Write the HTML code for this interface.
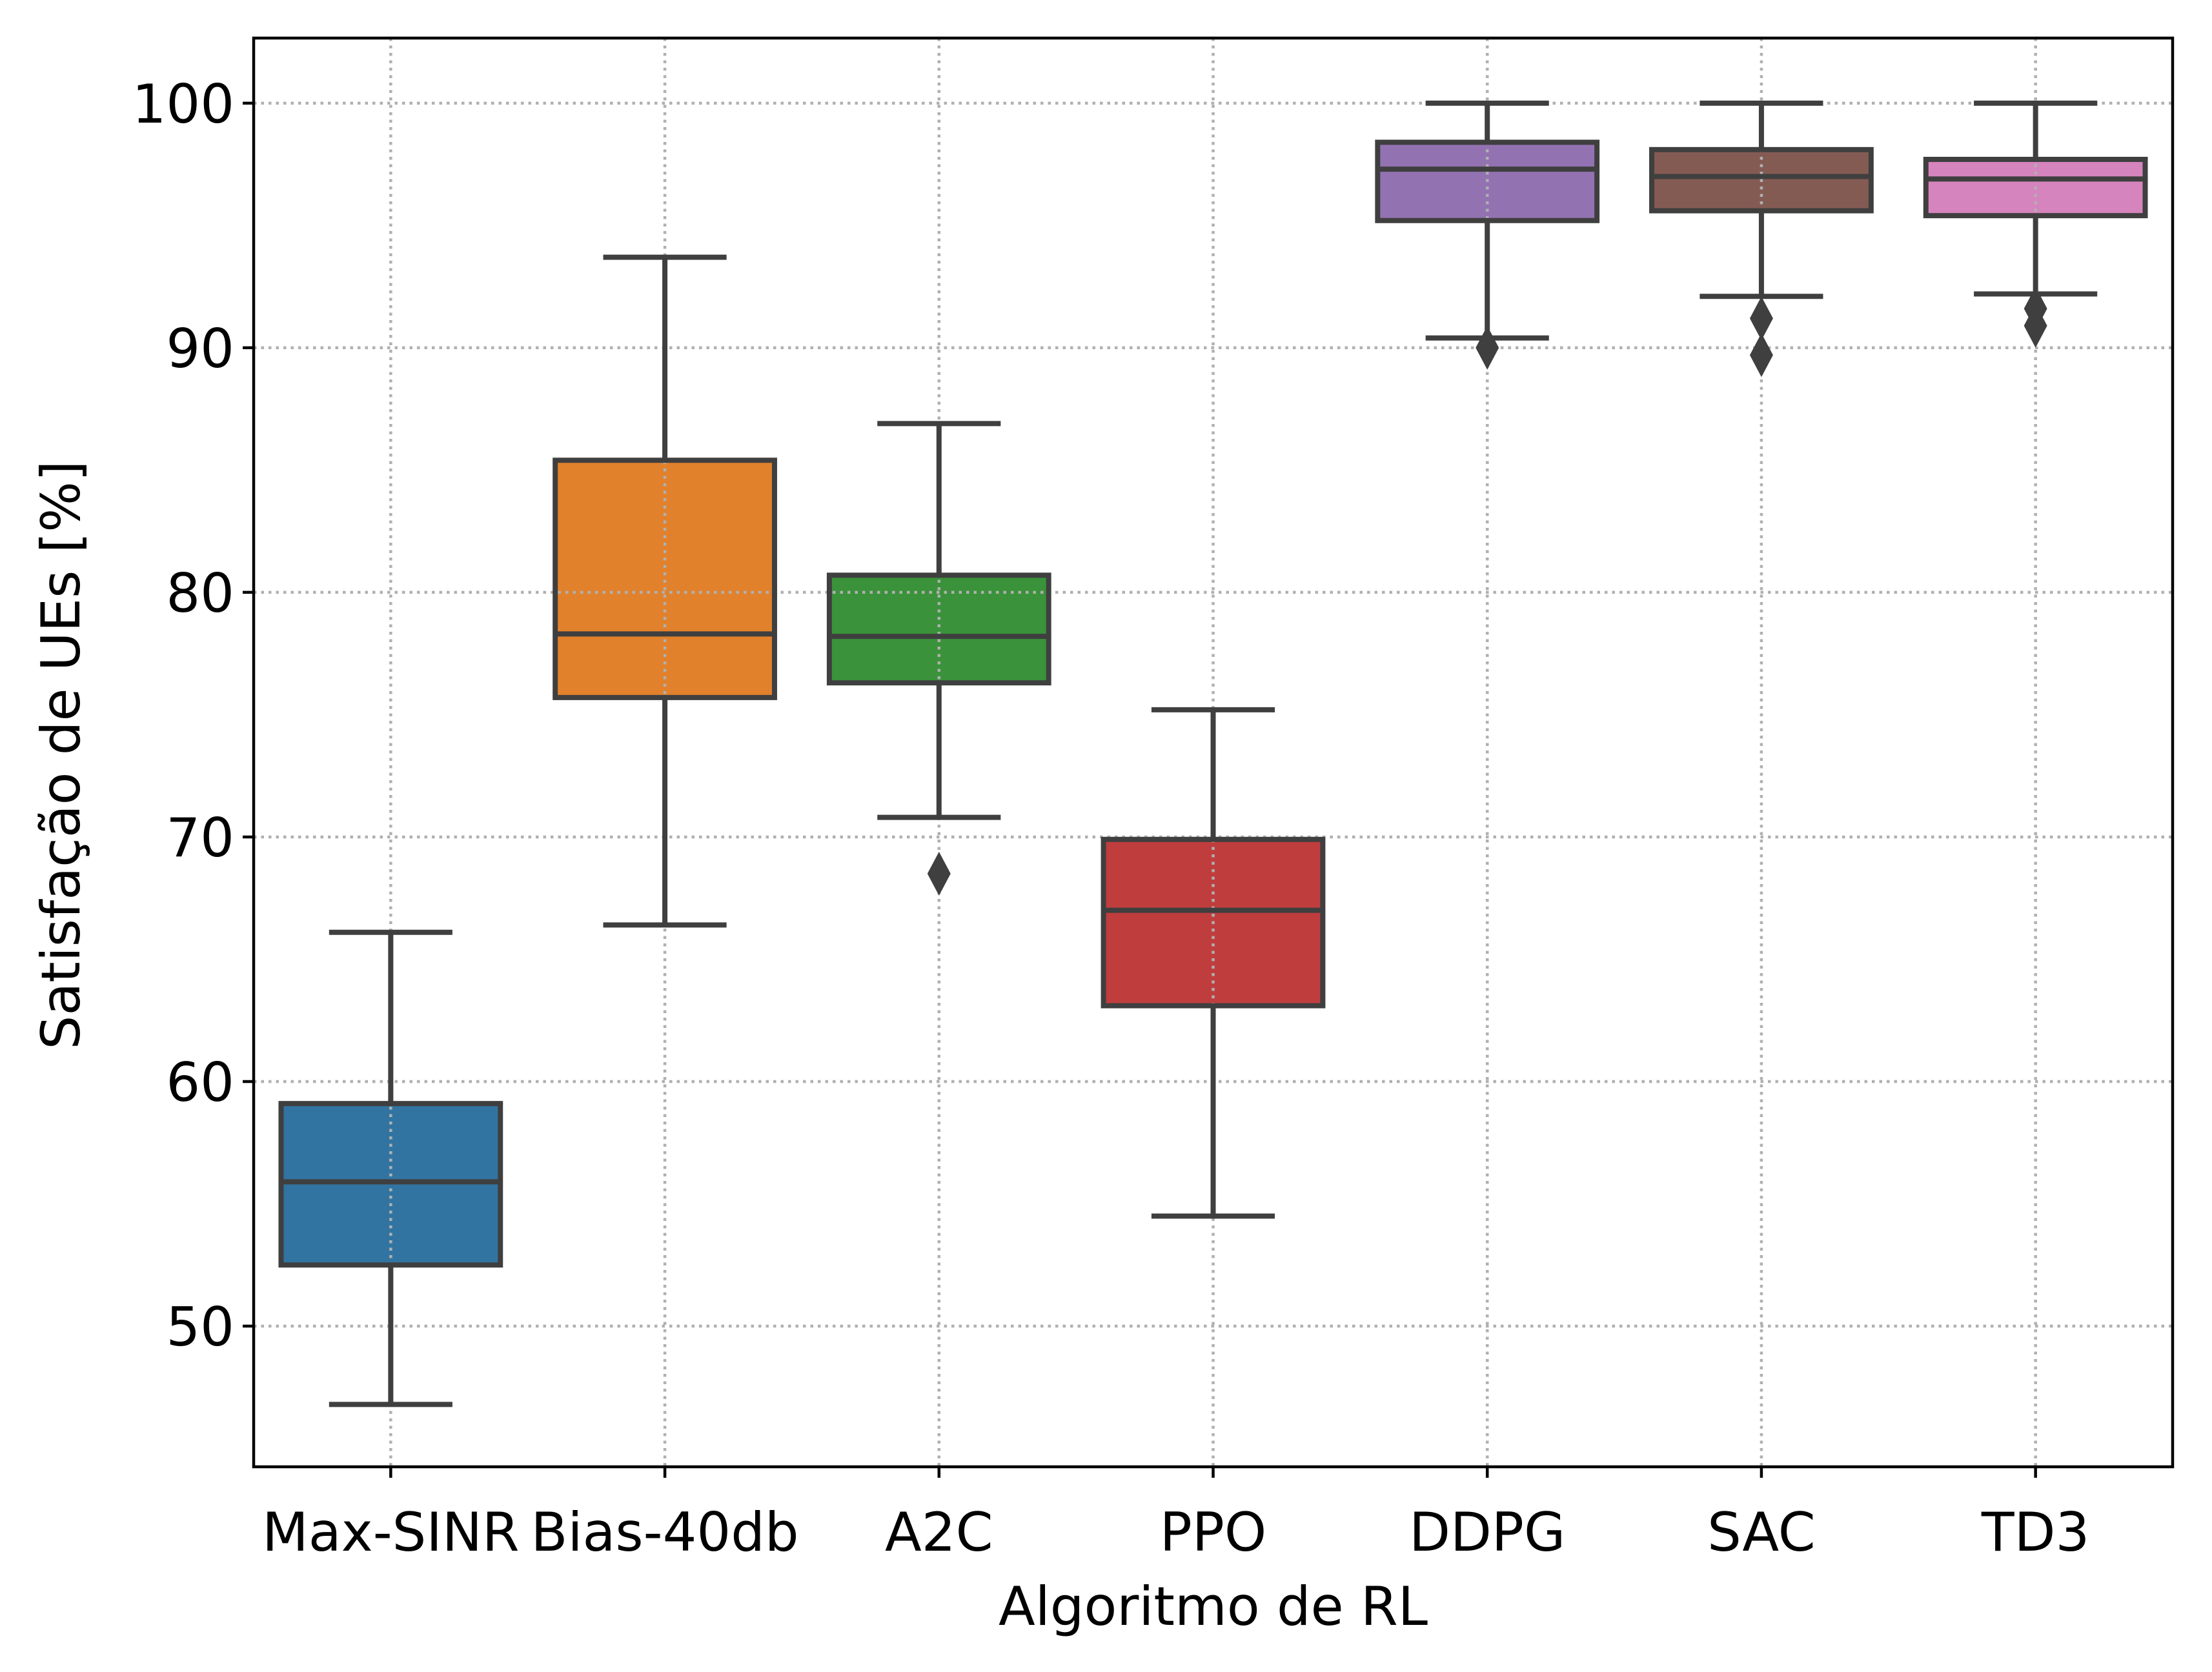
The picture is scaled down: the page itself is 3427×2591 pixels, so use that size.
<!DOCTYPE html>
<html><head><meta charset="utf-8"><style>
html,body{margin:0;padding:0;background:#fff;}
svg{display:block;}
text{font-family:"DejaVu Sans","Liberation Sans",sans-serif;fill:#000;}
</style></head><body>
<svg id="chart" xmlns="http://www.w3.org/2000/svg" width="3427" height="2591" viewBox="0 0 3427 2591">
<rect width="3427" height="2591" fill="#fff"/>
</svg>
<script>
const categories = ["Max-SINR","Bias-40db","A2C","PPO","DDPG","SAC","TD3"];
const whiskerLow = [46.8, 66.4, 70.8, 54.5, 90.4, 92.1, 92.2];
const q1Values   = [52.5, 75.7, 76.3, 63.1, 95.2, 95.6, 95.4];
const medians    = [55.9, 78.3, 78.2, 67.0, 97.3, 97.0, 96.9];
const q3Values   = [59.1, 85.4, 80.7, 69.9, 98.4, 98.1, 97.7];
const whiskerHigh= [66.1, 93.7, 86.9, 75.2, 100.0, 100.0, 100.0];
const outliers   = [[], [], [68.5], [], [90.0], [91.2, 89.7], [91.6, 90.9]];
const colors = ["#3274a1","#e1812c","#3a923a","#c03d3e","#9372b2","#845b53","#d684bd"];
const yTicks = [50,60,70,80,90,100];

const L=393, R=3366, T=59, B=2273;
const yMin=44.25, yMax=102.66;
const NS="http://www.w3.org/2000/svg";
const svg=document.getElementById('chart');
const xs=i=>L+(i+0.5)*(R-L)/categories.length;
const ys=v=>B-(v-yMin)/(yMax-yMin)*(B-T);
const bw=(R-L)/categories.length;
function mk(tag,attrs,parent){const e=document.createElementNS(NS,tag);for(const k in attrs)e.setAttribute(k,attrs[k]);(parent||svg).appendChild(e);return e;}
const lc="#3f3f3f", lw=8;
const FS=83;

const gF=mk('g',{});


categories.forEach((c,i)=>{
  const r=mk('rect',{x:xs(i)-0.4*bw,y:ys(q3Values[i]),width:0.8*bw,height:ys(q1Values[i])-ys(q3Values[i]),fill:colors[i]},gF);
  
  
});
const gG=mk('g',{stroke:'#b0b0b0','stroke-width':4.5,'stroke-dasharray':'4.5 7'});


yTicks.forEach(t=>{const l=mk('line',{x1:L,x2:R,y1:ys(t),y2:ys(t)},gG);
  
  });
categories.forEach((c,i)=>{const l=mk('line',{x1:xs(i),x2:xs(i),y1:T,y2:B},gG);
  
  });
categories.forEach((c,i)=>{
  const g=mk('g',{stroke:lc,'stroke-width':lw,fill:'none'});
  
  
  const x=xs(i), hw=0.4*bw, cw=0.225*bw;
  mk('line',{x1:x,x2:x,y1:ys(q3Values[i]),y2:ys(whiskerHigh[i])},g);
  mk('line',{x1:x,x2:x,y1:ys(q1Values[i]),y2:ys(whiskerLow[i])},g);
  mk('line',{x1:x-cw,x2:x+cw,y1:ys(whiskerHigh[i]),y2:ys(whiskerHigh[i])},g);
  mk('line',{x1:x-cw,x2:x+cw,y1:ys(whiskerLow[i]),y2:ys(whiskerLow[i])},g);
  mk('rect',{x:x-hw,y:ys(q3Values[i]),width:2*hw,height:ys(q1Values[i])-ys(q3Values[i])},g);
  mk('line',{x1:x-hw,x2:x+hw,y1:ys(medians[i]),y2:ys(medians[i])},g);
  outliers[i].forEach(v=>{const y=ys(v);
    const p=mk('polygon',{points:`${x},${y-34} ${x+18},${y} ${x},${y+34} ${x-18},${y}`,fill:lc,stroke:'none'});
    
    });
});
const fr=mk('rect',{x:L,y:T,width:R-L,height:B-T,fill:'none',stroke:'#000','stroke-width':4.5});


yTicks.forEach(t=>{
  const l=mk('line',{x1:L-17,x2:L,y1:ys(t),y2:ys(t),stroke:'#000','stroke-width':4.5});
  
  
  const tx=mk('text',{x:L-30,y:ys(t)+30,'font-size':FS,'text-anchor':'end'});
  tx.textContent=t;
  
  
});
categories.forEach((c,i)=>{
  const l=mk('line',{x1:xs(i),x2:xs(i),y1:B,y2:B+17,stroke:'#000','stroke-width':4.5});
  
  
  const tx=mk('text',{x:xs(i),y:2403,'font-size':FS,'text-anchor':'middle'});
  tx.textContent=c;
  
  
});
const xl=mk('text',{x:(L+R)/2,y:2518,'font-size':FS,'text-anchor':'middle'});
xl.textContent='Algoritmo de RL';


const yl=mk('text',{x:0,y:0,'font-size':FS,'text-anchor':'middle',transform:`translate(123,1170) rotate(-90)`});
yl.textContent='Satisfação de UEs [%]';


</script>
</body></html>
